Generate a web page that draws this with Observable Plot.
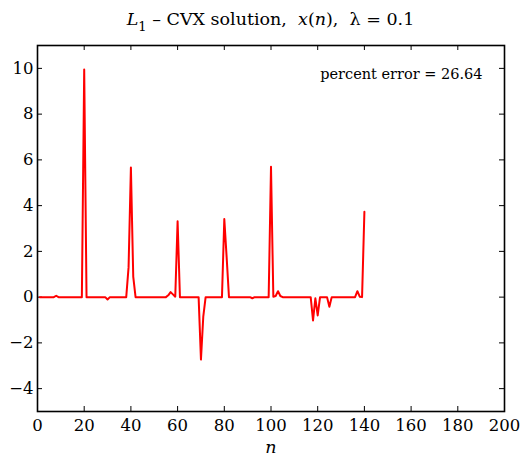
<!DOCTYPE html>
<html><head><meta charset="utf-8">
<script src="https://cdn.jsdelivr.net/npm/d3@7"></script>
<script src="https://cdn.jsdelivr.net/npm/@observablehq/plot@0.6"></script>
<style>
body{margin:0;background:#fff}
svg{font-family:"DejaVu Serif",serif}
</style>
</head><body><div id="chart"></div>
<script>
// x(n) for n = 1..140
const values = [
  0, 0, 0, 0, 0, 0, 0, 0.06, 0, 0,
  0, 0, 0, 0, 0, 0, 0, 0, 0, 9.95,
  0, 0, 0, 0, 0, 0, 0, 0, 0, -0.1,
  0, 0, 0, 0, 0, 0, 0, 0, 1.3, 5.67,
  0.9, 0, 0, 0, 0, 0, 0, 0, 0, 0,
  0, 0, 0, 0, 0, 0.08, 0.22, 0.12, 0.02, 3.32,
  0, 0, 0, 0, 0, 0, 0, 0, 0, -2.73,
  -0.85, 0, 0, 0, 0, 0, 0, 0, 0, 3.41,
  1.75, 0, 0, 0, 0, 0, 0, 0, 0, 0,
  0, -0.05, 0, 0, 0, 0, 0, 0, 0, 5.70,
  0.02, 0.05, 0.26, 0.05, 0, 0, 0, 0, 0, 0,
  0, 0, 0, 0, 0, 0, 0, -1.02, -0.05, -0.8,
  0, 0, 0, 0, -0.42, 0, 0, 0, 0, 0,
  0, 0, 0, 0, 0, 0, 0.26, 0.02, 0, 3.73
];
const xTicks = [0, 20, 40, 60, 80, 100, 120, 140, 160, 180, 200];
const yTicks = [-4, -2, 0, 2, 4, 6, 8, 10];
const xDomain = [0, 200];
const yDomain = [-5, 11];
const errorText = "percent error = 26.64";

const data = values.map((v, i) => ({n: i + 1, x: v}));

const W = 526, H = 461, mL = 37, mR = 22, mT = 45, mB = 50;
const fw = W - mL - mR, fh = H - mT - mB, tk = 5;

const chart = Plot.plot({
  width: W, height: H,
  marginLeft: mL, marginRight: mR, marginTop: mT, marginBottom: mB,
  style: {fontFamily: "DejaVu Serif", fontSize: "16px", background: "white", color: "black", overflow: "visible"},
  x: {domain: xDomain, ticks: xTicks},
  y: {domain: yDomain, ticks: yTicks},
  marks: [
    Plot.axisX(xTicks, {tickSize: 0, tickPadding: 8, fontSize: 16.5, label: null}),
    Plot.axisY(yTicks, {tickSize: 0, tickPadding: 4, fontSize: 16.5, label: null}),
    Plot.tickX(xTicks, {x: d => d, insetTop: fh - tk, stroke: "black"}),
    Plot.tickX(xTicks, {x: d => d, insetBottom: fh - tk, stroke: "black"}),
    Plot.tickY(yTicks, {y: d => d, insetRight: fw - tk, stroke: "black"}),
    Plot.tickY(yTicks, {y: d => d, insetLeft: fw - tk, stroke: "black"}),
    Plot.line(data, {x: "n", y: "x", stroke: "#ff0000", strokeWidth: 2}),
    Plot.frame({stroke: "black", strokeWidth: 1.6}),
    Plot.text([errorText], {frameAnchor: "top-right", textAnchor: "end", dx: -22, dy: 23, fontSize: 14.5}),
    Plot.text(["n"], {frameAnchor: "bottom", dy: 41, fontStyle: "italic", fontSize: 17.5})
  ]
});

const svg = d3.select(chart);
const t = svg.append("text")
  .attr("x", mL + fw / 2).attr("y", 25)
  .attr("text-anchor", "middle")
  .attr("font-size", 17.5)
  .style("white-space", "pre");
t.append("tspan").attr("font-style", "italic").text("L");
t.append("tspan").attr("dy", 6).attr("font-size", 13).text("1");
t.append("tspan").attr("dy", -6).text(" \u2013 CVX solution,  ");
t.append("tspan").attr("font-style", "italic").text("x");
t.append("tspan").text("(");
t.append("tspan").attr("font-style", "italic").text("n");
t.append("tspan").text("),  \u03bb = 0.1");

document.getElementById("chart").appendChild(chart);
</script>
</body></html>
